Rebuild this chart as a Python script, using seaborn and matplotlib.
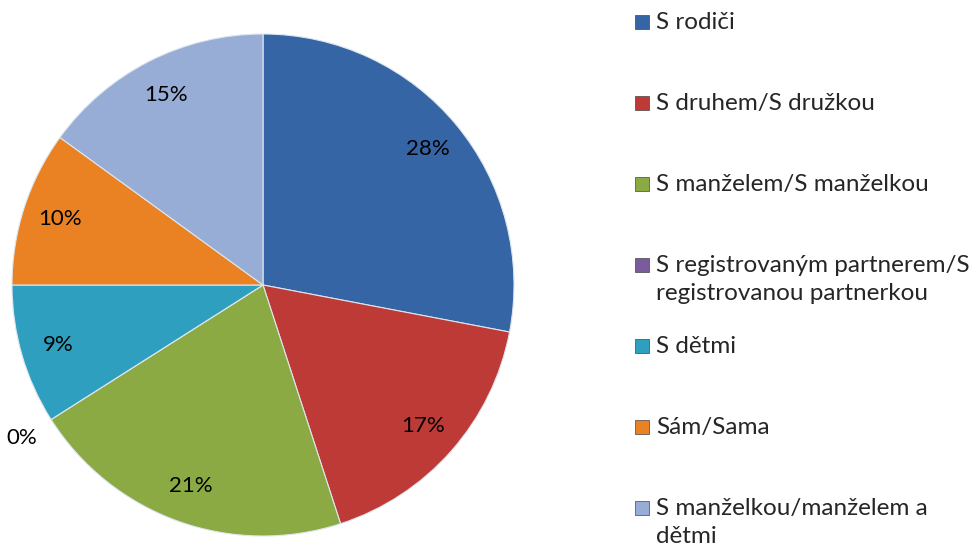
import matplotlib
matplotlib.use("Agg")
import matplotlib.pyplot as plt
import seaborn as sns
import numpy as np
from matplotlib.patches import Rectangle

categories = ["S rodiči", "S druhem/S družkou", "S manželem/S manželkou",
              "S registrovaným partnerem/S\nregistrovanou partnerkou", "S dětmi",
              "Sám/Sama", "S manželkou/manželem a\ndětmi"]
values = [28, 17, 21, 0, 9, 10, 15]
colors = ["#3565A5", "#BE3A37", "#8BAA44", "#7A5C9E", "#2E9FBE", "#EA8223", "#98ADD5"]

sns.set_theme(style="white")
plt.rcParams['font.family'] = ['Lato', 'DejaVu Sans']

fig = plt.figure(figsize=(9.76, 5.49), dpi=100)
ax = fig.add_axes([12/976, 13/549, 502/976, 502/549])

wedges, texts, autotexts = ax.pie(
    values, colors=colors, startangle=90, counterclock=False,
    autopct=lambda p: f"{p:.0f}%", pctdistance=0.85,
    wedgeprops=dict(edgecolor="#DDE6EE", linewidth=0.8),
    textprops=dict(fontsize=16, color="black"))
ax.set_xlim(-1, 1)
ax.set_ylim(-1, 1)
ax.set_aspect("equal")
ax.axis("off")

for w, t, v in zip(wedges, autotexts, values):
    if v == 0:
        ang = np.deg2rad((w.theta1 + w.theta2) / 2)
        t.set_position((1.14 * np.cos(ang), 1.14 * np.sin(ang)))

# legend
W, H = 976, 549
for i, (lab, col) in enumerate(zip(categories, colors)):
    y = 21 + 81 * i
    fig.patches.append(Rectangle((635 / W, 1 - (y + 8) / H), 14 / W, 14 / H,
                                 transform=fig.transFigure, facecolor=col,
                                 edgecolor="#444444", linewidth=0.5))
    fig.text(656 / W, 1 - (y - 9) / H, lab, fontsize=17.5, va="top", ha="left",
             linespacing=1.42, transform=fig.transFigure)

fig.savefig("out.png", dpi=100)
